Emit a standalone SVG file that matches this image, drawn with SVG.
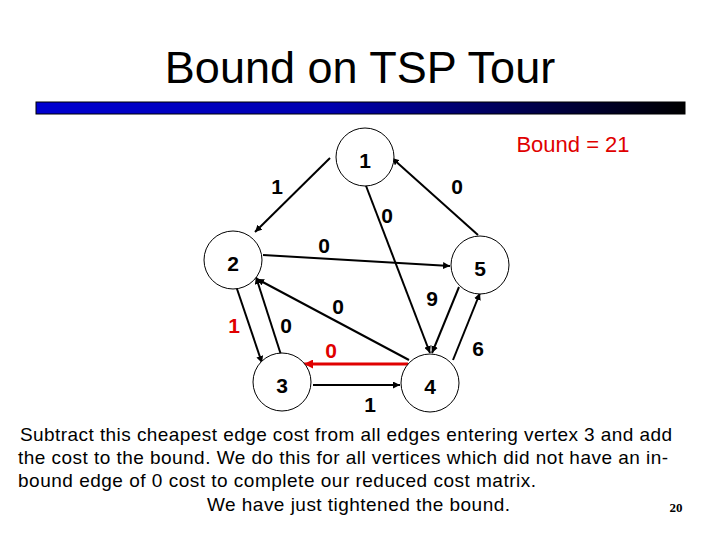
<svg xmlns="http://www.w3.org/2000/svg" width="720" height="540" viewBox="0 0 720 540">
<defs>
<linearGradient id="bar" x1="0" x2="1" y1="0" y2="0"><stop offset="0" stop-color="#0000d0"/><stop offset="0.45" stop-color="#0000b0"/><stop offset="1" stop-color="#000000"/></linearGradient>
<marker id="a" viewBox="0 0 10 10" refX="10" refY="5" markerWidth="7" markerHeight="7" markerUnits="userSpaceOnUse" orient="auto"><path d="M0,0L10,5L0,10z" fill="#000"/></marker>
<marker id="ar" viewBox="0 0 10 10" refX="10" refY="5" markerWidth="9" markerHeight="9" markerUnits="userSpaceOnUse" orient="auto"><path d="M0,0L10,5L0,10z" fill="#e00000"/></marker>
<style>
.n circle{fill:#fff;stroke:#000;stroke-width:1}
.t{font-family:"Liberation Sans",Arial,sans-serif;font-size:21px;text-anchor:middle}
.b{font-weight:bold}
.e line{stroke:#000;stroke-width:2;marker-end:url(#a)}
.s{font-family:"Liberation Sans",Arial,sans-serif;font-size:19px}
</style>
</defs>
<rect width="720" height="540" fill="#fff"/>
<text x="360" y="83" class="t" style="font-size:45px">Bound on TSP Tour</text>
<rect x="36" y="102" width="649" height="12" fill="url(#bar)" stroke="#000" stroke-width="1"/>
<text x="573" y="152" class="t" style="font-size:22px" fill="#e00000">Bound = 21</text>
<g class="e" id="connectors">
<line x1="330" y1="158" x2="255" y2="232"/>
<line x1="478" y1="235" x2="392" y2="158"/>
<line x1="363" y1="178" x2="430" y2="353"/>
<line x1="263" y1="255" x2="450" y2="266"/>
<line x1="409" y1="360" x2="257" y2="279"/>
<line x1="235" y1="283" x2="262" y2="363"/>
<line x1="282" y1="358" x2="256" y2="277"/>
<line x1="408" y1="364" x2="304" y2="364" style="stroke:#e00000;stroke-width:3;marker-end:url(#ar)"/>
<line x1="313" y1="385" x2="400" y2="385"/>
<line x1="459" y1="287" x2="432" y2="353"/>
<line x1="453" y1="360" x2="480" y2="293"/>
</g>
<g class="n" id="n1"><circle cx="365" cy="157" r="29"/><text x="365" y="168" class="t b">1</text></g>
<g class="n" id="n2"><circle cx="233" cy="260" r="29"/><text x="233" y="271" class="t b">2</text></g>
<g class="n" id="n3"><circle cx="282" cy="382" r="29"/><text x="282" y="393" class="t b">3</text></g>
<g class="n" id="n4"><circle cx="430" cy="383" r="29"/><text x="430" y="394" class="t b">4</text></g>
<g class="n" id="n5"><circle cx="480" cy="265" r="29"/><text x="480" y="276" class="t b">5</text></g>
<g class="t b" id="labels">
<text x="277" y="194">1</text>
<text x="457" y="194">0</text>
<text x="387" y="223">0</text>
<text x="324" y="253">0</text>
<text x="432" y="306">9</text>
<text x="338" y="314">0</text>
<text x="234" y="333" fill="#e00000">1</text>
<text x="286" y="333">0</text>
<text x="331" y="358" fill="#e00000">0</text>
<text x="478" y="356">6</text>
<text x="370" y="412">1</text>
</g>
<g class="s">
<text x="20" y="441" textLength="652" lengthAdjust="spacing">Subtract this cheapest edge cost from all edges entering vertex 3 and add</text>
<text x="18" y="464" textLength="650" lengthAdjust="spacing">the cost to the bound.  We do this for all vertices which did not have an in-</text>
<text x="18" y="487" textLength="518" lengthAdjust="spacing">bound edge of 0 cost to complete our reduced cost matrix.</text>
<text x="207" y="511" textLength="303" lengthAdjust="spacing">We have just tightened the bound.</text>
</g>
<text x="676" y="512" font-family="Liberation Serif,serif" font-weight="bold" font-size="13" text-anchor="middle">20</text>
</svg>
